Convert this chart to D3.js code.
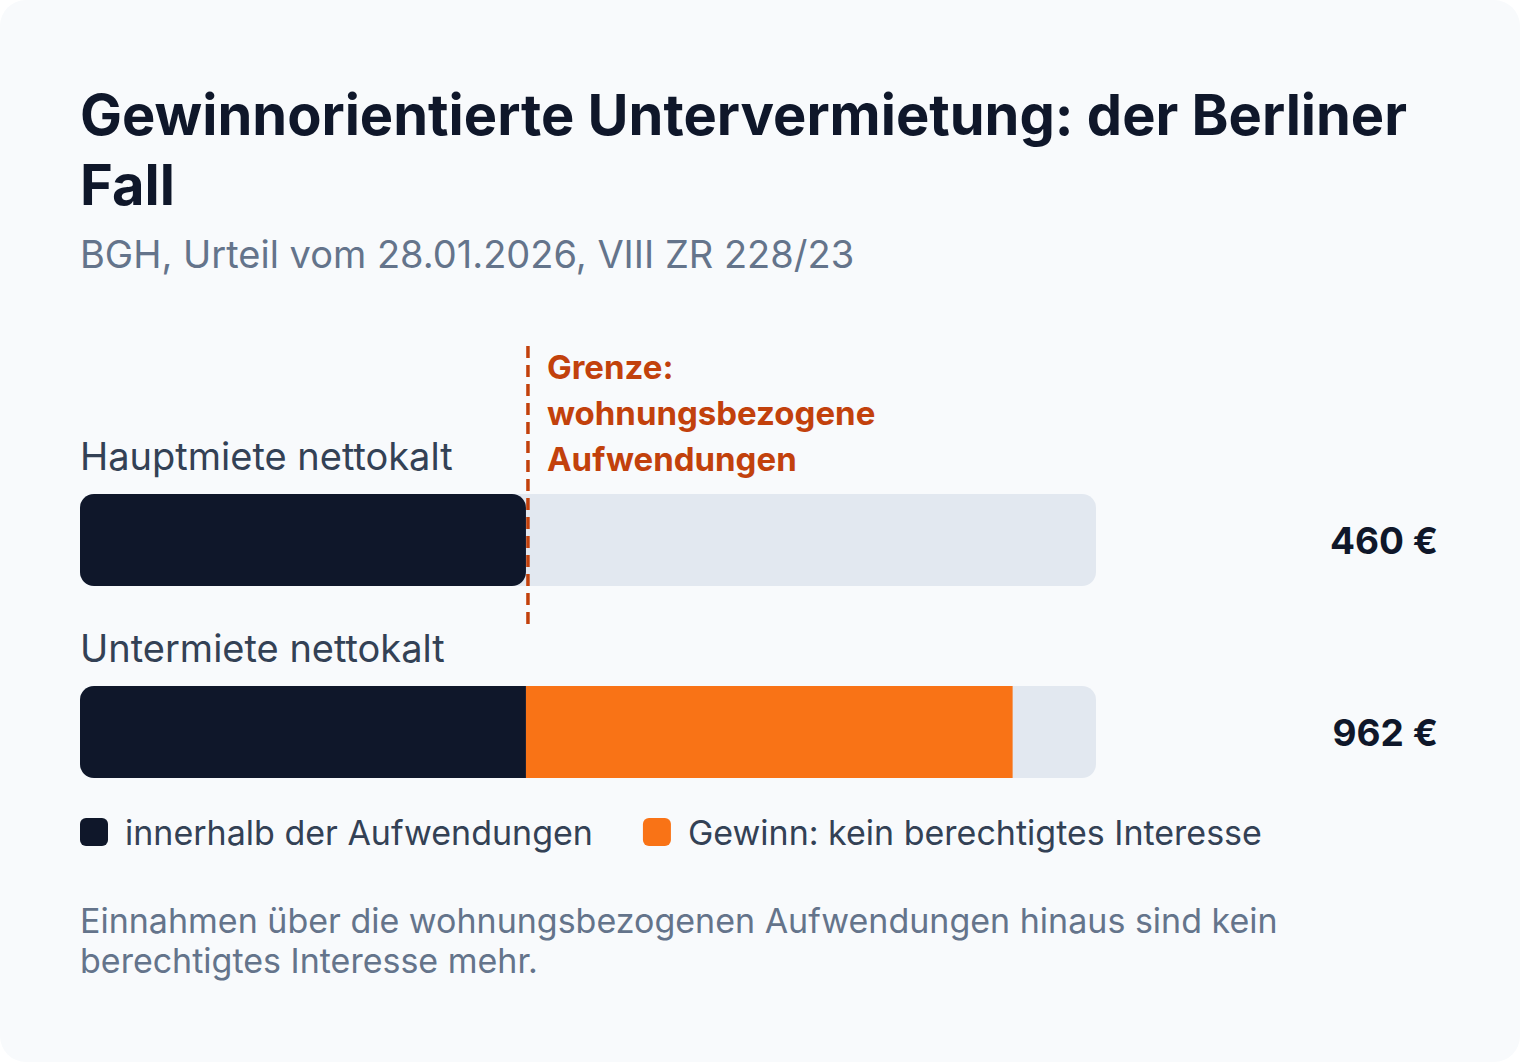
<!DOCTYPE html>
<html lang="de">
<head>
<meta charset="utf-8">
<script src="https://cdn.jsdelivr.net/npm/d3@7"></script>
<style>
  html, body { margin: 0; padding: 0; background: #ffffff; }
  svg { display: block; font-family: Inter, "Noto Sans", sans-serif; }
</style>
</head>
<body>
<svg id="chart" width="1520" height="1062"></svg>
<script>
// ---- data ----
const titleLines = ["Gewinnorientierte Untervermietung: der Berliner", "Fall"];
const subtitle = "BGH, Urteil vom 28.01.2026, VIII ZR 228/23";
const categories = ["Hauptmiete nettokalt", "Untermiete nettokalt"];
const totals = [460, 962];
const withinCosts = [460, 460];
const profit = [0, 502];
const limitValue = 460;
const limitLabel = ["Grenze:", "wohnungsbezogene", "Aufwendungen"];
const legendLabels = ["innerhalb der Aufwendungen", "Gewinn: kein berechtigtes Interesse"];
const footnoteLines = ["Einnahmen über die wohnungsbezogenen Aufwendungen hinaus sind kein", "berechtigtes Interesse mehr."];
const trackMax = 1048;

// ---- styles ----
const C = {
  bg: "#f8fafc", dark: "#0f172a", track: "#e2e8f0", orange: "#f97316",
  accent: "#c2410c", label: "#334155", muted: "#64748b"
};

const svg = d3.select("#chart");
const W = 1520, H = 1062;

svg.append("rect").attr("x", 0).attr("y", 0).attr("width", W).attr("height", H)
  .attr("rx", 26).attr("fill", C.bg);

// title
svg.append("text").attr("x", 80).attr("y", 135)
  .attr("font-size", 56).attr("font-weight", 700).attr("fill", C.dark)
  .selectAll("tspan").data(titleLines).join("tspan")
  .attr("x", 80).attr("dy", (d, i) => i === 0 ? 0 : 70).text(d => d);

svg.append("text").attr("x", 80).attr("y", 268)
  .attr("font-size", 38).attr("fill", C.muted).text(subtitle);

// scales
const x = d3.scaleLinear().domain([0, trackMax]).range([80, 1096]);
const y = d3.scaleBand().domain(categories).range([494, 778]).paddingInner(100 / 192);
const bh = y.bandwidth();
const r = 14;

const defs = svg.append("defs");
categories.forEach((c, i) => {
  defs.append("clipPath").attr("id", "clip" + i)
    .append("rect").attr("x", x(0)).attr("y", y(c))
    .attr("width", x(trackMax) - x(0)).attr("height", bh).attr("rx", r);
});

const rows = svg.selectAll("g.row").data(categories).join("g").attr("class", "row");

rows.append("text").attr("x", 80).attr("y", d => y(d) - 24)
  .attr("font-size", 38).attr("fill", C.label).text(d => d);

rows.append("rect").attr("x", x(0)).attr("y", d => y(d))
  .attr("width", x(trackMax) - x(0)).attr("height", bh).attr("rx", r).attr("fill", C.track);

rows.each(function (d, i) {
  const g = d3.select(this).append("g");
  if (profit[i] > 0) {
    g.attr("clip-path", "url(#clip" + i + ")");
    g.append("rect").attr("x", x(0)).attr("y", y(d))
      .attr("width", x(withinCosts[i]) - x(0)).attr("height", bh).attr("fill", C.dark);
    g.append("rect").attr("x", x(withinCosts[i])).attr("y", y(d))
      .attr("width", x(withinCosts[i] + profit[i]) - x(withinCosts[i])).attr("height", bh).attr("fill", C.orange);
  } else {
    g.append("rect").attr("x", x(0)).attr("y", y(d))
      .attr("width", x(withinCosts[i]) - x(0)).attr("height", bh).attr("rx", r).attr("fill", C.dark);
  }
});

rows.append("text").attr("x", 1438).attr("y", d => y(d) + bh / 2 + 14)
  .attr("text-anchor", "end").attr("font-size", 37).attr("font-weight", 700).attr("fill", C.dark)
  .text((d, i) => totals[i] + " €");

const lx = x(limitValue) + 2;
svg.append("line").attr("x1", lx).attr("x2", lx).attr("y1", 346).attr("y2", 631)
  .attr("stroke", C.accent).attr("stroke-width", 3.5).attr("stroke-dasharray", "12,7");

svg.append("text").attr("x", lx + 19).attr("y", 379)
  .attr("font-size", 33).attr("font-weight", 700).attr("fill", C.accent)
  .selectAll("tspan").data(limitLabel).join("tspan")
  .attr("x", lx + 19).attr("dy", (d, i) => i === 0 ? 0 : 46).text(d => d);

const legendColors = [C.dark, C.orange];
let lxPos = 80;
legendLabels.forEach((lab, i) => {
  const g = svg.append("g");
  g.append("rect").attr("x", lxPos).attr("y", 818).attr("width", 28).attr("height", 28)
    .attr("rx", 6).attr("fill", legendColors[i]);
  const t = g.append("text").attr("x", lxPos + 45).attr("y", 845)
    .attr("font-size", 34).attr("fill", C.label).text(lab);
  lxPos = lxPos + 45 + t.node().getComputedTextLength() + 50;
});

svg.append("text").attr("x", 80).attr("y", 933)
  .attr("font-size", 34).attr("fill", C.muted)
  .selectAll("tspan").data(footnoteLines).join("tspan")
  .attr("x", 80).attr("dy", (d, i) => i === 0 ? 0 : 40).text(d => d);
</script>
</body>
</html>
